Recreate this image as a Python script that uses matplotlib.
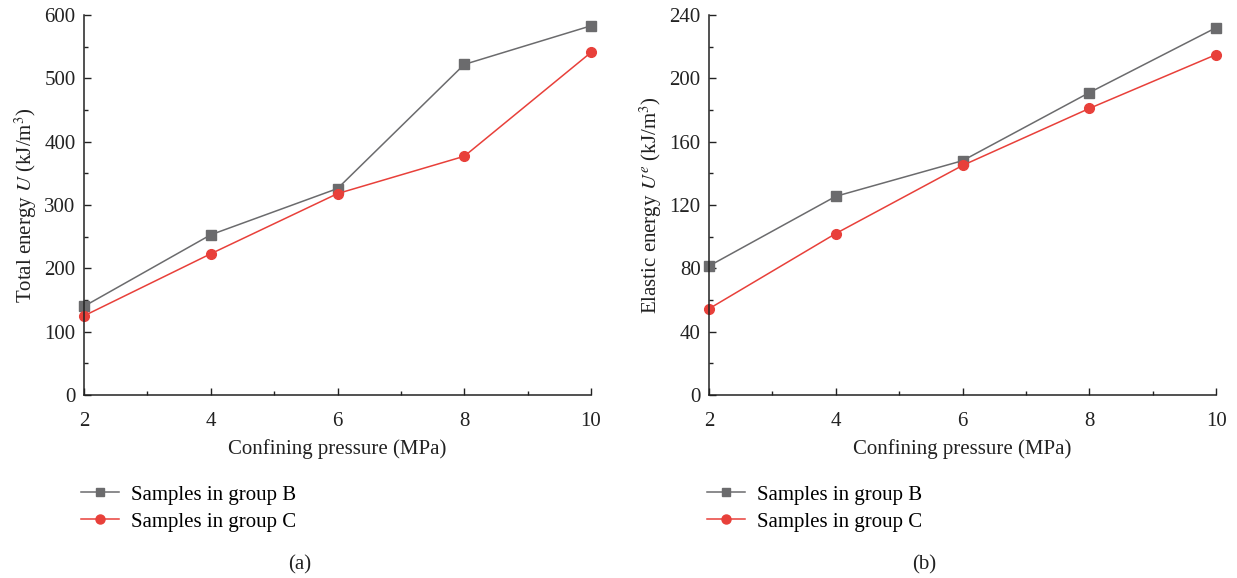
import matplotlib
matplotlib.use("Agg")
import matplotlib.pyplot as plt
from matplotlib.ticker import MultipleLocator
from matplotlib.lines import Line2D

plt.rcParams['font.family'] = ['Liberation Serif', 'DejaVu Serif']
plt.rcParams['mathtext.fontset'] = 'stix'

pressure = [2, 4, 6, 8, 10]
total_b = [140, 253, 326, 522, 583]
total_c = [125, 223, 318, 377, 541]
elastic_b = [81.5, 125.5, 148, 191, 232]
elastic_c = [54.5, 102, 145, 181, 215]

labels = ['Samples in group B', 'Samples in group C']
gray = '#6b6b6d'
red = '#e8403a'

fig = plt.figure(figsize=(12.37, 5.78), dpi=100)
ax1 = fig.add_axes([0.0679, 0.3166, 0.4099, 0.6574])
ax2 = fig.add_axes([0.5732, 0.3166, 0.4099, 0.6574])


def style(ax, ymax, ymaj, ymin, ylabel):
    ax.set_xlim(2, 10)
    ax.set_ylim(0, ymax)
    ax.xaxis.set_major_locator(MultipleLocator(2))
    ax.xaxis.set_minor_locator(MultipleLocator(1))
    ax.yaxis.set_major_locator(MultipleLocator(ymaj))
    ax.yaxis.set_minor_locator(MultipleLocator(ymin))
    ax.spines['top'].set_visible(False)
    ax.spines['right'].set_visible(False)
    for s in ('left', 'bottom'):
        ax.spines[s].set_linewidth(1.1)
        ax.spines[s].set_color('#222222')
    ax.tick_params(which='major', direction='in', length=5, width=1, labelsize=15,
                   colors='#222222', pad=6)
    ax.tick_params(axis='x', which='major', pad=12)
    ax.tick_params(which='minor', direction='in', length=3, width=1, colors='#222222')
    ax.set_xlabel('Confining pressure (MPa)', fontsize=15, color='#222222', labelpad=6)
    ax.set_ylabel(ylabel, fontsize=15, color='#222222', labelpad=4)


ax1.plot(pressure, total_b, color=gray, marker='s', markersize=6.5, lw=1.1, clip_on=False)
ax1.plot(pressure, total_c, color=red, marker='o', markersize=7, lw=1.1, clip_on=False)
style(ax1, 600, 100, 50, r'Total energy $U$ (kJ/m$^3$)')

ax2.plot(pressure, elastic_b, color=gray, marker='s', markersize=6.5, lw=1.1, clip_on=False)
ax2.plot(pressure, elastic_c, color=red, marker='o', markersize=7, lw=1.1, clip_on=False)
style(ax2, 240, 40, 20, r'Elastic energy $U^e$ (kJ/m$^3$)')

handles = [Line2D([], [], color=gray, marker='s', markersize=6, lw=1.1),
           Line2D([], [], color=red, marker='o', markersize=6.5, lw=1.1)]

for x0, tag, xc in [(0.059, '(a)', 0.242), (0.565, '(b)', 0.747)]:
    fig.legend(handles, labels, loc='upper left', bbox_to_anchor=(x0, 0.175),
               frameon=False, fontsize=15, handlelength=1.8, labelspacing=0.35,
               handletextpad=0.6, borderaxespad=0)
    fig.text(xc, 0.014, tag, fontsize=15, ha='center', color='#222222')

fig.savefig('out.png', dpi=100)
